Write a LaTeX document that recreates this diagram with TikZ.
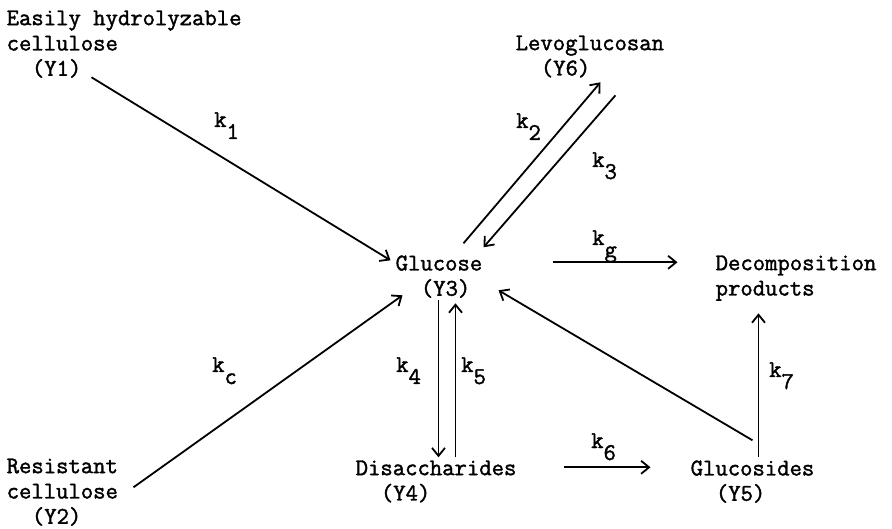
\documentclass[tikz,border=0pt]{standalone}
\usepackage{fontspec}
\newfontfamily\typewr{Latin Modern Mono}[FakeBold=1.6]
\usetikzlibrary{arrows.meta}

\newcommand{\krate}[1]{k\raisebox{-.5em}{#1}}

\begin{document}
\begin{tikzpicture}[
      x=1pt, y=-1pt,
      font=\fontsize{24}{25.3}\selectfont\typewr,
      species/.style={inner sep=0pt, anchor=north west, align=left},
      rxn/.style={-{Straight Barb[length=8pt, width=13pt]}, line width=1.8pt},
      ratelabel/.style={inner sep=0pt, anchor=base west}
    ]
    \useasboundingbox (0,0) rectangle (892,529);

    % species
    \node[species] (y1) at (6.5,10.3) {Easily hydrolyzable\\cellulose\\\hspace*{1.05em}(Y1)};
    \node[species] (y2) at (6.5,458.3) {Resistant\\cellulose\\\hspace*{1.05em}(Y2)};
    \node[species] (levo) at (515.5,35.3) {Levoglucosan\\\hspace*{1.05em}(Y6)};
    \node[species] (glu) at (395.5,255.3) {Glucose\\\hspace*{1.05em}(Y3)};
    \node[species] (dec) at (715.5,255.3) {Decomposition\\products};
    \node[species] (dis) at (355.5,460.3) {Disaccharides\\\hspace*{1.05em}(Y4)};
    \node[species] (glucs) at (690.5,460.3) {Glucosides\\\hspace*{1.05em}(Y5)};

    % reactions
    \draw[rxn] ([shift={(85,67)}]y1.north west) -- ([shift={(-5,5)}]glu.north west);
    \draw[rxn] ([shift={(127,29)}]y2.north west) -- ([shift={(7,40)}]glu.north west);
    \draw[rxn] ([shift={(68,-12)}]glu.north west) -- ([shift={(85,47)}]levo.north west);
    \draw[rxn] ([shift={(100,60)}]levo.north west) -- ([shift={(88,-8)}]glu.north west);
    \draw[rxn] ([shift={(157,7)}]glu.north west) -- ([shift={(-38,7)}]dec.north west);
    \draw[rxn] ([shift={(43,45)}]glu.north west) -- ([shift={(83,-3)}]dis.north west);
    \draw[rxn] ([shift={(100,-3)}]dis.north west) -- ([shift={(60,48)}]glu.north west);
    \draw[rxn] ([shift={(208,7)}]dis.north west) -- ([shift={(-40,7)}]glucs.north west);
    \draw[rxn] ([shift={(68,-3)}]glucs.north west) -- ([shift={(43,58)}]dec.north west);
    \draw[rxn] ([shift={(62,-20)}]glucs.north west) -- ([shift={(103,35)}]glu.north west);

    % rate constants
    \node[ratelabel] (lk1) at (214,127) {\krate{1}};
    \node[ratelabel] (lk2) at (516,128) {\krate{2}};
    \node[ratelabel] (lk3) at (592,167) {\krate{3}};
    \node[ratelabel] (lkg) at (592,245) {\krate{g}};
    \node[ratelabel] (lkc) at (212,372) {\krate{c}};
    \node[ratelabel] (lk4) at (396,372) {\krate{4}};
    \node[ratelabel] (lk5) at (461,372) {\krate{5}};
    \node[ratelabel] (lk6) at (591,448) {\krate{6}};
    \node[ratelabel] (lk7) at (769,377) {\krate{7}};
\end{tikzpicture}
\end{document}
